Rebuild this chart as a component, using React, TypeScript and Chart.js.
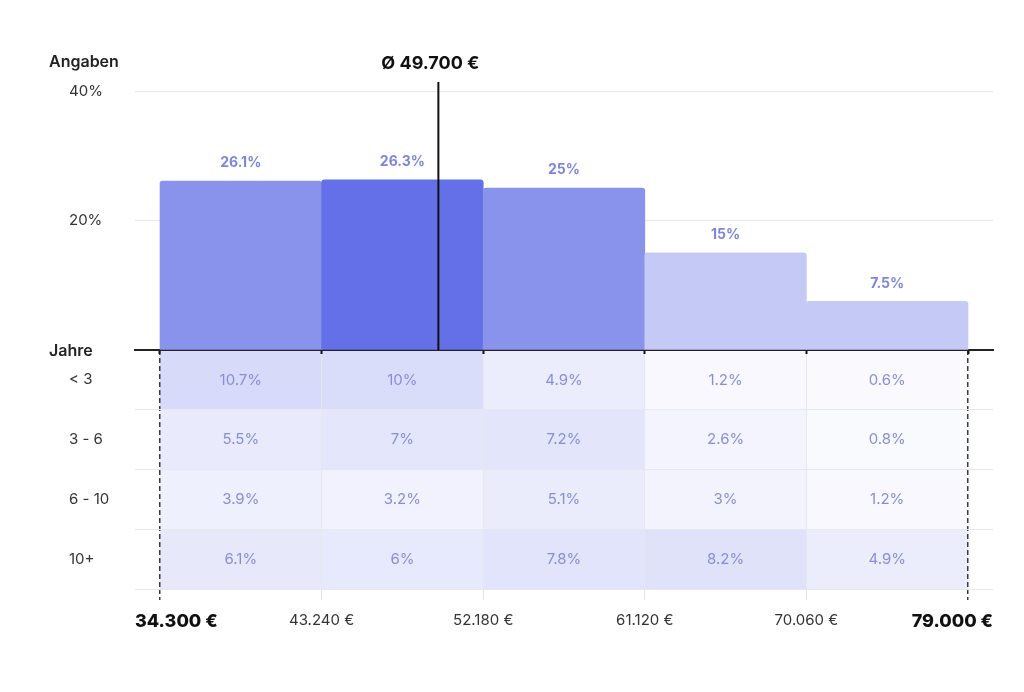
import React, { useEffect, useRef } from 'react';
import { Chart, registerables } from 'chart.js';

Chart.register(...registerables);

// ---- data ----
const BOUNDS = [34300, 43240, 52180, 61120, 70060, 79000];
const SHARES = [26.1, 26.3, 25, 15, 7.5];
const MEAN = 49700;
const Y_TICKS = [0, 20, 40];
const ROW_LABELS = ['< 3', '3 - 6', '6 - 10', '10+'];
const ROW_LT3 = [10.7, 10, 4.9, 1.2, 0.6];
const ROW_3_6 = [5.5, 7, 7.2, 2.6, 0.8];
const ROW_6_10 = [3.9, 3.2, 5.1, 3, 1.2];
const ROW_10P = [6.1, 6, 7.8, 8.2, 4.9];
const ROWS = [ROW_LT3, ROW_3_6, ROW_6_10, ROW_10P];

// ---- axis ranges / styles ----
const X_MIN = 32917;
const X_MAX = 80383;
const Y_MAX = 41.4;
const BAR_COLORS = ['#8a93ec', '#6370e8', '#8a93ec', '#c5c9f6', '#c5c9f6'];
const FONT = 'Inter, "Noto Sans", sans-serif';
const TRANSPARENT = 'rgba(0,0,0,0)';
const SEP = '#e7e7ee';

const fmtEuro = (v: number) => String(v).replace(/\B(?=(\d{3})+(?!\d))/g, '.') + ' €';
const pct = (v: number) => String(v) + '%';
const cellColor = (v: number) => {
  const a = Math.min(1, 0.02 + 0.022 * v);
  const mix = (c: number) => Math.round(255 - (255 - c) * a);
  return `rgb(${mix(99)},${mix(112)},${mix(232)})`;
};
const centers = BOUNDS.slice(0, -1).map((b, i) => (b + BOUNDS[i + 1]) / 2);

const topTextPlugin = {
  id: 'topText',
  afterDatasetsDraw(chart: any) {
    const ctx = chart.ctx;
    const meta = chart.getDatasetMeta(0);
    const xs = chart.scales.x;
    const ys = chart.scales.y;
    ctx.save();
    ctx.textAlign = 'center';
    ctx.textBaseline = 'middle';
    ctx.font = `700 14px ${FONT}`;
    ctx.fillStyle = '#7d86dc';
    meta.data.forEach((el: any, i: number) => {
      const p = el.getProps(['x', 'y'], true);
      ctx.fillText(pct(SHARES[i]), p.x, p.y - 18);
    });
    ctx.font = `700 18px ${FONT}`;
    ctx.fillStyle = '#111';
    ctx.fillText('Ø ' + fmtEuro(MEAN), xs.getPixelForValue(MEAN) - 8, ys.getPixelForValue(Y_MAX) - 18);
    ctx.textAlign = 'left';
    ctx.font = `600 16px ${FONT}`;
    ctx.fillStyle = '#222';
    const lx = ys.left - 20;
    ctx.fillText('Angaben', lx, ys.getPixelForValue(Y_MAX) - 20);
    ctx.fillText('Jahre', lx, ys.getPixelForValue(0) + 1);
    ctx.restore();
  },
};

const cellTextPlugin = {
  id: 'cellText',
  afterDatasetsDraw(chart: any) {
    const ctx = chart.ctx;
    ctx.save();
    ctx.textAlign = 'center';
    ctx.textBaseline = 'middle';
    ctx.font = `400 15px ${FONT}`;
    ctx.fillStyle = '#878ed6';
    ROWS.forEach((row, r) => {
      const meta = chart.getDatasetMeta(r);
      meta.data.forEach((el: any, i: number) => {
        const p = el.getProps(['x', 'y', 'base'], true);
        ctx.fillText(pct(row[i]), p.x, (p.y + p.base) / 2);
      });
    });
    ctx.restore();
  },
};

export default function App() {
  const topRef = useRef<HTMLCanvasElement>(null);
  const botRef = useRef<HTMLCanvasElement>(null);

  useEffect(() => {
    Chart.defaults.font.family = FONT;
    const isEdge = (ctx: any) => ctx.index === 0 || ctx.index === BOUNDS.length - 1;

    const top = new Chart(topRef.current as HTMLCanvasElement, {
      type: 'bar',
      data: {
        datasets: [
          {
            type: 'bar',
            data: centers.map((x, i) => ({ x, y: SHARES[i] })),
            backgroundColor: BAR_COLORS,
            borderRadius: 3,
            barPercentage: 1,
            categoryPercentage: 1,
            order: 2,
          } as any,
          {
            type: 'line',
            data: [{ x: MEAN, y: 0 }, { x: MEAN, y: Y_MAX }],
            borderColor: '#111',
            borderWidth: 2,
            pointRadius: 0,
            order: 1,
          } as any,
        ],
      },
      options: {
        responsive: false,
        animation: false,
        events: [],
        layout: { padding: { left: 69, right: 31, top: 82, bottom: 0 } },
        plugins: { legend: { display: false }, tooltip: { enabled: false } },
        scales: {
          x: {
            type: 'linear',
            min: X_MIN,
            max: X_MAX,
            offset: false,
            afterBuildTicks: (s: any) => { s.ticks = BOUNDS.map((value) => ({ value })); },
            ticks: { display: false },
            grid: { offset: false, drawOnChartArea: false, drawTicks: true, tickLength: 4, tickWidth: 2, tickColor: '#111' },
            border: { display: true, color: '#222', width: 2 },
            afterFit: (s: any) => { s.height = 10; },
          },
          y: {
            type: 'linear',
            min: 0,
            max: Y_MAX,
            afterBuildTicks: (s: any) => { s.ticks = Y_TICKS.map((value) => ({ value })); },
            ticks: {
              crossAlign: 'far',
              padding: 0,
              font: { size: 15 },
              color: '#333',
              callback: (v: any) => (v === 0 ? '' : v + '%'),
            },
            grid: {
              color: (c: any) => (c.tick && c.tick.value === 0 ? TRANSPARENT : '#e6e6ec'),
              lineWidth: 1,
              drawTicks: false,
            },
            border: { display: false },
            afterFit: (s: any) => { s.width = 66; },
          },
        },
      } as any,
      plugins: [topTextPlugin],
    });

    const bot = new Chart(botRef.current as HTMLCanvasElement, {
      type: 'bar',
      data: {
        datasets: ROWS.map((row, r) => ({
          type: 'bar',
          data: row.map((_, i) => ({ x: centers[i], y: [r, r + 1] })),
          backgroundColor: row.map((v) => cellColor(v)),
          borderWidth: 0,
          borderSkipped: false,
          grouped: false,
          barPercentage: 1,
          categoryPercentage: 1,
          xAxisID: 'x',
          yAxisID: 'y',
        })) as any,
      },
      options: {
        responsive: false,
        animation: false,
        events: [],
        layout: { padding: { left: 69, right: 31, top: 30, bottom: 47 } },
        plugins: { legend: { display: false }, tooltip: { enabled: false } },
        scales: {
          x: {
            type: 'linear',
            position: 'bottom',
            weight: 0,
            min: X_MIN,
            max: X_MAX,
            offset: false,
            afterBuildTicks: (s: any) => { s.ticks = BOUNDS.map((value) => ({ value })); },
            ticks: { display: false },
            grid: {
              z: 1,
              offset: false,
              color: (c: any) => (isEdge(c) ? '#3a3a3a' : SEP),
              lineWidth: (c: any) => (isEdge(c) ? 1.5 : 1),
              tickLength: 11,
              tickColor: (c: any) => (isEdge(c) ? '#3a3a3a' : '#e2e2e8'),
              tickWidth: (c: any) => (isEdge(c) ? 1.5 : 1),
              tickBorderDash: (c: any) => (isEdge(c) ? [5, 3] : []),
            },
            border: { display: false, dash: (c: any) => (isEdge(c) ? [5, 3] : []) },
            afterFit: (s: any) => { s.height = 11; },
          },
          xl: {
            type: 'linear',
            position: 'bottom',
            weight: 1,
            min: X_MIN,
            max: X_MAX,
            offset: false,
            afterBuildTicks: (s: any) => {
              s.ticks = [X_MIN, ...BOUNDS.slice(1, -1), X_MAX].map((value) => ({ value }));
            },
            grid: { display: false, drawTicks: false, offset: false },
            border: { display: false },
            ticks: {
              align: 'inner',
              autoSkip: false,
              maxRotation: 0,
              padding: 11,
              font: (c: any) => (isEdge(c) ? { size: 18, weight: '800' } : { size: 15, weight: '400' }),
              color: (c: any) => (isEdge(c) ? '#111' : '#333'),
              callback: (_v: any, i: number) => fmtEuro(BOUNDS[i]),
            },
            afterFit: (s: any) => { s.height = 45; },
          },
          y: {
            type: 'linear',
            min: 0,
            max: 4,
            reverse: true,
            afterBuildTicks: (s: any) => {
              s.ticks = [0, 0.5, 1, 1.5, 2, 2.5, 3, 3.5, 4].map((value) => ({ value }));
            },
            ticks: {
              crossAlign: 'far',
              padding: 0,
              font: { size: 15 },
              color: '#333',
              callback: (v: any) => (Number.isInteger(v) ? '' : ROW_LABELS[Math.floor(v)]),
            },
            grid: {
              z: 1,
              color: (c: any) =>
                c.tick && Number.isInteger(c.tick.value) && c.tick.value > 0 ? SEP : TRANSPARENT,
              lineWidth: 1,
              drawTicks: false,
            },
            border: { display: false },
            afterFit: (s: any) => { s.width = 66; },
          },
        },
      } as any,
      plugins: [cellTextPlugin],
    });

    return () => {
      top.destroy();
      bot.destroy();
    };
  }, []);

  return (
    <div style={{ position: 'fixed', left: 0, top: 0, width: 1024, height: 692, background: '#fff', overflow: 'hidden' }}>
      <canvas
        ref={botRef}
        width={1024}
        height={372}
        style={{ position: 'absolute', left: 0, top: 320, display: 'block', zIndex: 1 }}
      />
      <canvas
        ref={topRef}
        width={1024}
        height={360}
        style={{ position: 'absolute', left: 0, top: 0, display: 'block', zIndex: 2 }}
      />
    </div>
  );
}
